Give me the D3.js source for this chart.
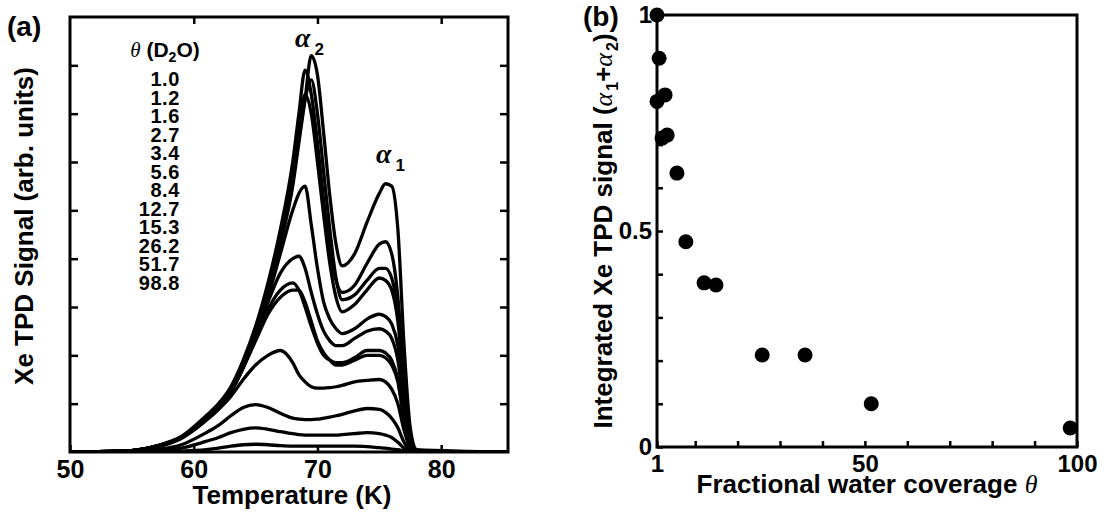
<!DOCTYPE html>
<html>
<head>
<meta charset="utf-8">
<script src="https://cdn.jsdelivr.net/npm/d3@7"></script>
<style>
  body { margin: 0; background: #fff; }
  svg { display: block; }
  text { font-family: "Liberation Sans", Arial, sans-serif; font-weight: bold; fill: #000; }
</style>
</head>
<body>
<div id="chart"></div>
<script>
// ---- panel (a): Xe TPD spectra, one row per D2O coverage ----
const temps = [50, 55, 57, 59, 61, 62, 63, 64, 65, 66, 67, 68, 68.5, 69, 69.5, 70, 70.5, 71, 71.5, 72, 73, 74, 75, 75.5, 76, 76.5, 77, 77.5, 78, 85.5];

const s1_0  = [0, 0.03, 0.12, 0.3, 0.7, 0.95, 1.25, 1.75, 2.4, 3.25, 4.3, 5.5, 6.4, 7.3, 8.2, 7.8, 6.6, 5.3, 4.3, 3.85, 4.1, 4.75, 5.35, 5.55, 5.5, 4.6, 2.2, 0.5, 0.05, 0];
const s1_2  = [0, 0.03, 0.13, 0.32, 0.75, 1.0, 1.35, 1.9, 2.6, 3.5, 4.6, 6.0, 7.0, 7.9, 7.4, 6.4, 5.2, 4.2, 3.55, 3.3, 3.45, 3.9, 4.3, 4.35, 4.1, 3.2, 1.5, 0.3, 0.03, 0];
const s1_6  = [0, 0.03, 0.12, 0.3, 0.72, 0.97, 1.3, 1.8, 2.5, 3.35, 4.4, 5.6, 6.5, 7.3, 7.7, 7.0, 5.8, 4.6, 3.6, 3.15, 3.25, 3.55, 3.8, 3.8, 3.6, 2.9, 1.4, 0.3, 0.03, 0];
const s2_7  = [0, 0.03, 0.12, 0.3, 0.72, 0.97, 1.3, 1.82, 2.5, 3.4, 4.45, 5.7, 6.6, 7.4, 7.0, 6.0, 4.9, 3.9, 3.2, 2.9, 3.05, 3.35, 3.6, 3.55, 3.35, 2.7, 1.3, 0.25, 0.02, 0];
const s3_4  = [0, 0.03, 0.12, 0.3, 0.7, 0.95, 1.25, 1.75, 2.4, 3.2, 4.1, 5.0, 5.35, 5.5, 4.7, 3.8, 3.1, 2.75, 2.55, 2.45, 2.55, 2.75, 2.85, 2.8, 2.65, 2.2, 1.1, 0.2, 0.02, 0];
const s5_6  = [0, 0.03, 0.12, 0.3, 0.7, 0.95, 1.25, 1.75, 2.4, 3.1, 3.7, 4.0, 4.05, 3.8, 3.3, 2.85, 2.5, 2.3, 2.2, 2.2, 2.35, 2.5, 2.55, 2.5, 2.35, 1.9, 0.9, 0.15, 0.02, 0];
const s8_4  = [0, 0.03, 0.12, 0.3, 0.7, 0.95, 1.25, 1.75, 2.35, 2.95, 3.35, 3.5, 3.35, 3.0, 2.6, 2.25, 2.0, 1.9, 1.85, 1.85, 1.95, 2.1, 2.1, 2.05, 1.9, 1.5, 0.7, 0.1, 0.01, 0];
const s12_7 = [0, 0.03, 0.12, 0.3, 0.7, 0.95, 1.25, 1.75, 2.3, 2.85, 3.2, 3.35, 3.35, 3.1, 2.7, 2.3, 2.05, 1.9, 1.8, 1.8, 1.9, 2.0, 2.0, 1.95, 1.8, 1.45, 0.65, 0.1, 0.01, 0];
const s15_3 = [0, 0.03, 0.1, 0.28, 0.65, 0.88, 1.15, 1.5, 1.8, 2.0, 2.1, 1.85, 1.6, 1.45, 1.35, 1.32, 1.32, 1.33, 1.35, 1.38, 1.45, 1.48, 1.5, 1.45, 1.3, 1.0, 0.45, 0.08, 0.01, 0];
const s26_2 = [0, 0.01, 0.05, 0.15, 0.4, 0.55, 0.75, 0.92, 0.98, 0.92, 0.8, 0.7, 0.68, 0.67, 0.67, 0.68, 0.7, 0.72, 0.75, 0.78, 0.85, 0.9, 0.88, 0.82, 0.7, 0.5, 0.2, 0.03, 0, 0];
const s51_7 = [0, 0.01, 0.03, 0.08, 0.22, 0.3, 0.4, 0.47, 0.5, 0.47, 0.42, 0.38, 0.36, 0.35, 0.35, 0.35, 0.35, 0.35, 0.35, 0.36, 0.38, 0.4, 0.38, 0.35, 0.3, 0.2, 0.08, 0.01, 0, 0];
const s98_8 = [0, 0, 0.01, 0.02, 0.05, 0.08, 0.12, 0.15, 0.16, 0.15, 0.13, 0.12, 0.12, 0.12, 0.12, 0.12, 0.12, 0.12, 0.12, 0.12, 0.12, 0.11, 0.09, 0.08, 0.06, 0.05, 0.02, 0, 0, 0];

const coverageLabels = ["1.0", "1.2", "1.6", "2.7", "3.4", "5.6", "8.4", "12.7", "15.3", "26.2", "51.7", "98.8"];
const spectra = [s1_0, s1_2, s1_6, s2_7, s3_4, s5_6, s8_4, s12_7, s15_3, s26_2, s51_7, s98_8];
const tempTicks = [50, 60, 70, 80];
const signalTicks = [1, 2, 3, 4, 5, 6, 7, 8];

// ---- panel (b): integrated signal vs coverage ----
const coverageB = [1.0, 1.5, 2.9, 1.0, 3.4, 2.2, 5.7, 7.8, 12.1, 14.9, 25.8, 35.9, 51.5, 98.4];
const integrated = [1.0, 0.9, 0.815, 0.8, 0.722, 0.715, 0.634, 0.475, 0.38, 0.375, 0.213, 0.213, 0.1, 0.044];
const covTicks = [1, 10, 20, 30, 40, 50, 60, 70, 80, 90, 100];
const covLabels = [1, 50, 100];
const intTicks = d3.range(0, 1.01, 0.1);
const intLabels = [0, 0.5, 1];

const W = 1118, H = 513;
const svg = d3.select("#chart").append("svg").attr("width", W).attr("height", H);

// ===== panel (a) =====
const xa = d3.scaleLinear().domain([50, 85.4]).range([70, 508]);
const ya = d3.scaleLinear().domain([0, 9]).range([452, 17]);

svg.append("clipPath").attr("id", "clipA")
  .append("rect").attr("x", 70).attr("y", 17).attr("width", 438).attr("height", 435);

const line = d3.line()
  .x((d, i) => xa(temps[i]))
  .y(d => ya(d))
  .curve(d3.curveMonotoneX);

svg.append("g").attr("clip-path", "url(#clipA)")
  .selectAll("path")
  .data(spectra.slice().reverse())
  .join("path")
    .attr("d", line)
    .attr("fill", "none")
    .attr("stroke", "#000")
    .attr("stroke-width", 3.3)
    .attr("stroke-linejoin", "round");

function styleAxis(g, fs) {
  g.select(".domain").remove();
  g.selectAll(".tick line").attr("stroke", "#000").attr("stroke-width", 2.5);
  g.selectAll(".tick text").attr("font-size", fs).attr("font-family", null).attr("fill", "#000");
}

svg.append("g").attr("transform", "translate(0,452)")
  .call(d3.axisBottom(xa).tickValues(tempTicks).tickSizeInner(-7).tickSizeOuter(0).tickPadding(8))
  .call(g => styleAxis(g, 25));
svg.append("g").attr("transform", "translate(0,17)")
  .call(d3.axisTop(xa).tickValues(tempTicks.slice(1)).tickSizeInner(-7).tickSizeOuter(0).tickFormat(""))
  .call(g => styleAxis(g, 25));
svg.append("g").attr("transform", "translate(70,0)")
  .call(d3.axisLeft(ya).tickValues(signalTicks).tickSizeInner(-8).tickSizeOuter(0).tickFormat(""))
  .call(g => styleAxis(g, 25));
svg.append("g").attr("transform", "translate(508,0)")
  .call(d3.axisRight(ya).tickValues(signalTicks).tickSizeInner(-8).tickSizeOuter(0).tickFormat(""))
  .call(g => styleAxis(g, 25));

svg.append("rect").attr("x", 70).attr("y", 17).attr("width", 438).attr("height", 435)
  .attr("fill", "none").attr("stroke", "#000").attr("stroke-width", 3);

svg.append("text").attr("x", 7).attr("y", 36).attr("font-size", 28).text("(a)");

svg.append("text").attr("x", 292).attr("y", 504).attr("text-anchor", "middle")
  .attr("font-size", 26).text("Temperature (K)");

svg.append("text").attr("transform", "translate(33,226) rotate(-90)")
  .attr("text-anchor", "middle").attr("font-size", 26).text("Xe TPD Signal (arb. units)");

// legend
const leg = svg.append("text").attr("x", 165).attr("y", 57).attr("text-anchor", "middle").attr("font-size", 21);
leg.append("tspan").attr("font-family", "'Liberation Serif', serif").attr("font-style", "italic").attr("font-weight", "normal").text("θ");
leg.append("tspan").text(" (D");
leg.append("tspan").attr("font-size", 14).attr("dy", 5).text("2");
leg.append("tspan").attr("dy", -5).text("O)");

svg.append("g").selectAll("text")
  .data(coverageLabels)
  .join("text")
    .attr("x", 180)
    .attr("y", (d, i) => 86 + i * 18.5)
    .attr("text-anchor", "end")
    .attr("font-size", 20)
    .attr("letter-spacing", 0.6)
    .text(d => d);

// peak labels
function alphaLabel(x, y, sub) {
  const t = svg.append("text").attr("x", x).attr("y", y);
  t.append("tspan").attr("font-family", "'Liberation Serif', serif").attr("font-style", "italic")
    .attr("font-size", 28).text("α");
  t.append("tspan").attr("font-size", 17).attr("dx", 4).attr("dy", 8).text(sub);
}
alphaLabel(295, 47, "2");
alphaLabel(376, 163, "1");

// ===== panel (b) =====
const xb = d3.scaleLinear().domain([1, 100]).range([657, 1077]);
const yb = d3.scaleLinear().domain([0, 1]).range([447, 15]);

svg.append("g").attr("transform", "translate(0,447)")
  .call(d3.axisBottom(xb).tickValues(covTicks).tickSizeInner(-6).tickSizeOuter(0).tickPadding(8)
    .tickFormat(d => covLabels.includes(d) ? d : ""))
  .call(g => styleAxis(g, 24));
svg.append("g").attr("transform", "translate(657,0)")
  .call(d3.axisLeft(yb).tickValues(intTicks).tickSizeInner(-6).tickSizeOuter(0).tickPadding(5)
    .tickFormat(d => intLabels.some(v => Math.abs(v - d) < 1e-6) ? d3.format("~g")(d) : ""))
  .call(g => styleAxis(g, 24));

svg.append("rect").attr("x", 657).attr("y", 15).attr("width", 420).attr("height", 432)
  .attr("fill", "none").attr("stroke", "#000").attr("stroke-width", 3);

svg.append("g").selectAll("circle")
  .data(coverageB)
  .join("circle")
    .attr("cx", d => xb(d))
    .attr("cy", (d, i) => yb(integrated[i]))
    .attr("r", 7.5)
    .attr("fill", "#000");

svg.append("text").attr("x", 583).attr("y", 26).attr("font-size", 28).text("(b)");

const xt = svg.append("text").attr("x", 867).attr("y", 493).attr("text-anchor", "middle").attr("font-size", 26);
xt.append("tspan").text("Fractional water coverage ");
xt.append("tspan").attr("font-family", "'Liberation Serif', serif").attr("font-style", "italic")
  .attr("font-weight", "normal").text("θ");

const yt = svg.append("text").attr("transform", "translate(612,231) rotate(-90)")
  .attr("text-anchor", "middle").attr("font-size", 26);
yt.append("tspan").text("Integrated Xe TPD signal (");
yt.append("tspan").attr("font-family", "'Liberation Serif', serif").attr("font-style", "italic").attr("font-weight", "normal").text("α");
yt.append("tspan").attr("font-size", 16).attr("dx", 2).attr("dy", 6).text("1");
yt.append("tspan").attr("dy", -6).text("+");
yt.append("tspan").attr("font-family", "'Liberation Serif', serif").attr("font-style", "italic").attr("font-weight", "normal").text("α");
yt.append("tspan").attr("font-size", 16).attr("dx", 2).attr("dy", 6).text("2");
yt.append("tspan").attr("dy", -6).text(")");
</script>
</body>
</html>
